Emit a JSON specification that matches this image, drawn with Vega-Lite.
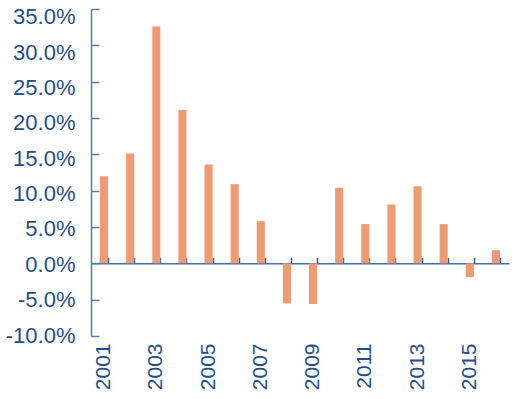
{
  "$schema": "https://vega.github.io/schema/vega-lite/v6.json",
  "width": 418,
  "height": 327,
  "autosize": {"type": "none"},
  "padding": {"left": 91, "top": 9, "right": 12, "bottom": 63},
  "background": "white",
  "config": {"view": {"stroke": null}},
  "data": {
    "values": [
      {"year": 2001, "growth": 12.0},
      {"year": 2002, "growth": 15.1},
      {"year": 2003, "growth": 32.6},
      {"year": 2004, "growth": 21.1},
      {"year": 2005, "growth": 13.6},
      {"year": 2006, "growth": 10.9},
      {"year": 2007, "growth": 5.8},
      {"year": 2008, "growth": -5.5},
      {"year": 2009, "growth": -5.6},
      {"year": 2010, "growth": 10.4},
      {"year": 2011, "growth": 5.4},
      {"year": 2012, "growth": 8.1},
      {"year": 2013, "growth": 10.6},
      {"year": 2014, "growth": 5.4},
      {"year": 2015, "growth": -1.9},
      {"year": 2016, "growth": 1.8}
    ]
  },
  "layer": [
    {
      "mark": {"type": "bar", "color": "#ee9a72"},
      "encoding": {
        "x": {
          "field": "year",
          "type": "ordinal",
          "scale": {"paddingInner": 0.69, "paddingOuter": 0.345},
          "axis": {
            "orient": "bottom",
            "title": null,
            "domain": false,
            "ticks": false,
            "values": [2001, 2003, 2005, 2007, 2009, 2011, 2013, 2015],
            "labelAngle": -90,
            "labelFont": "Liberation Sans",
            "labelFontSize": 21,
            "labelColor": "#1f4e8f",
            "labelPadding": 7
          }
        },
        "y": {
          "field": "growth",
          "type": "quantitative",
          "scale": {"domain": [-10, 35], "nice": false},
          "axis": null
        }
      }
    },
    {
      "mark": {"type": "bar", "opacity": 0},
      "encoding": {
        "x": {
          "field": "year",
          "type": "ordinal",
          "axis": {
            "orient": "top",
            "offset": -254.3,
            "title": null,
            "labels": false,
            "domainColor": "#3f72b0",
            "domainWidth": 1.6,
            "tickColor": "#2a5a9a",
            "tickWidth": 1.5,
            "tickSize": 6,
            "tickBand": "extent"
          }
        },
        "y": {
          "field": "growth",
          "type": "quantitative",
          "scale": {"domain": [-10, 35], "nice": false},
          "axis": {
            "orient": "right",
            "offset": -418,
            "title": null,
            "grid": false,
            "labels": false,
            "domain": false,
            "values": [-10, -5, 0, 5, 10, 15, 20, 25, 30, 35],
            "tickColor": "#4a7ebb",
            "tickWidth": 1.5,
            "tickSize": 8
          }
        }
      }
    },
    {
      "mark": {"type": "bar", "opacity": 0},
      "encoding": {
        "x": {"field": "year", "type": "ordinal", "axis": null},
        "y": {
          "field": "growth",
          "type": "quantitative",
          "scale": {"domain": [-10.14, 36.09], "nice": false, "zero": false},
          "axis": {
            "orient": "left",
            "title": null,
            "grid": false,
            "ticks": false,
            "values": [-10, -5, 0, 5, 10, 15, 20, 25, 30, 35],
            "labelExpr": "(datum.value < 0 ? '-' : '') + format(abs(datum.value), '.1f') + '%'",
            "labelOverlap": false,
            "labelFont": "Liberation Sans",
            "labelFontSize": 22,
            "labelColor": "#1f4e8f",
            "labelPadding": 16,
            "domainColor": "#4a7ebb",
            "domainWidth": 1.5
          }
        }
      }
    }
  ],
  "resolve": {"axis": {"x": "independent", "y": "independent"}, "scale": {"y": "independent"}}
}
